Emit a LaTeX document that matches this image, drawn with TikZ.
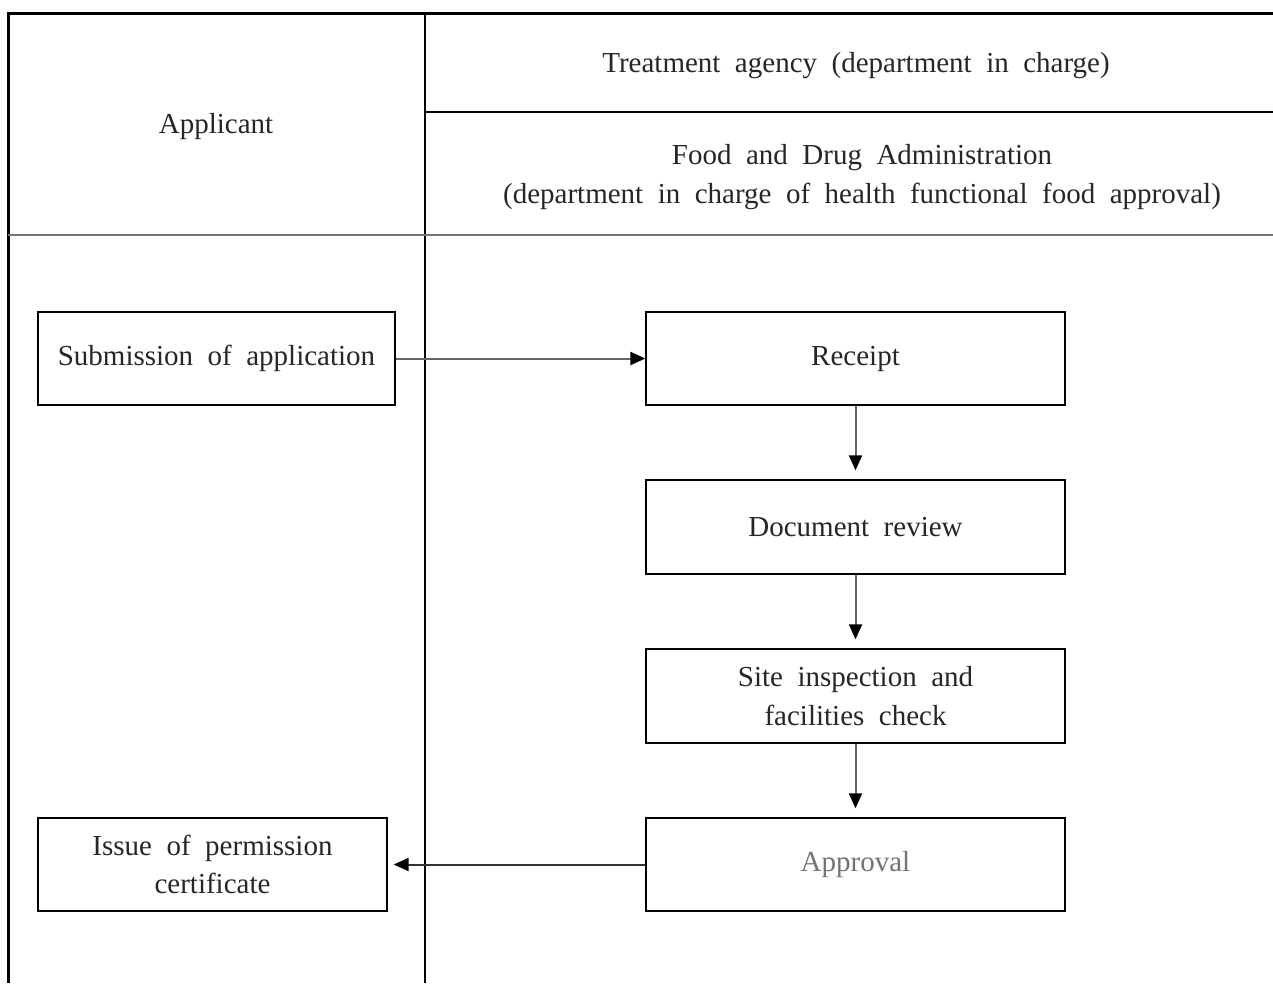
\documentclass[tikz,border=0pt]{standalone}
\usepackage{fontspec}
\setmainfont{Liberation Serif}
\usetikzlibrary{arrows.meta}
\newcommand\widewords{\spaceskip=0.5em plus 0.1em\relax}
\begin{document}
\begin{tikzpicture}[x=1pt,y=-1pt,
  txt/.style={text=black!85, font=\fontsize{29}{38.5}\selectfont\widewords, align=center, inner sep=0pt},
  stepbox/.style={draw=black, line width=1.3pt, txt},
  link/.style={draw=black!60, line width=2pt, -{Triangle[length=15pt,width=13pt,color=black]}},
  frame/.style={line width=3pt, draw=black},
  rule/.style={line width=1.1pt, draw=black}]
\useasboundingbox (0,0) rectangle (1273,983);
% table frame
\draw[frame] (8,983) -- (8,13) -- (1273,13);
\draw[rule] (425,13) -- (425,983);
\draw[rule] (425,112) -- (1273,112);
\draw[line width=2pt, draw=black!55] (8,235) -- (1273,235);
% headings
\node[txt] (appl) at (216,127) {Applicant};
\node[txt] (agency) at (856,66) {Treatment agency (department in charge)};
\node[txt] (fda) at (862,177) {Food and Drug Administration\\(department in charge of health functional food approval)};
% process boxes
\node[stepbox, minimum width=357pt, minimum height=93pt] (sub) at (216.5,358.5) {\raisebox{-4pt}{Submission of application}};
\node[stepbox, minimum width=419pt, minimum height=93pt] (rec) at (855.5,358.5) {\raisebox{-4pt}{Receipt}};
\node[stepbox, minimum width=419pt, minimum height=94pt] (doc) at (855.5,527) {\raisebox{-4pt}{Document review}};
\node[stepbox, minimum width=419pt, minimum height=94pt] (site) at (855.5,696) {Site inspection and\\facilities check};
\node[stepbox, minimum width=419pt, minimum height=93pt, text=black!55] (appr) at (855.5,864.5) {\raisebox{-4pt}{Approval}};
\node[stepbox, minimum width=349pt, minimum height=93pt] (iss) at (212.5,864.5) {Issue of permission\\certificate};
% connectors
\draw[link] (sub) -- (rec);
\draw[link, shorten >=9pt] (rec) -- (doc);
\draw[link, shorten >=9pt] (doc) -- (site);
\draw[link, shorten >=9pt] (site) -- (appr);
\draw[link, draw=black!80, shorten >=6pt] (appr) -- (iss);
\end{tikzpicture}
\end{document}
